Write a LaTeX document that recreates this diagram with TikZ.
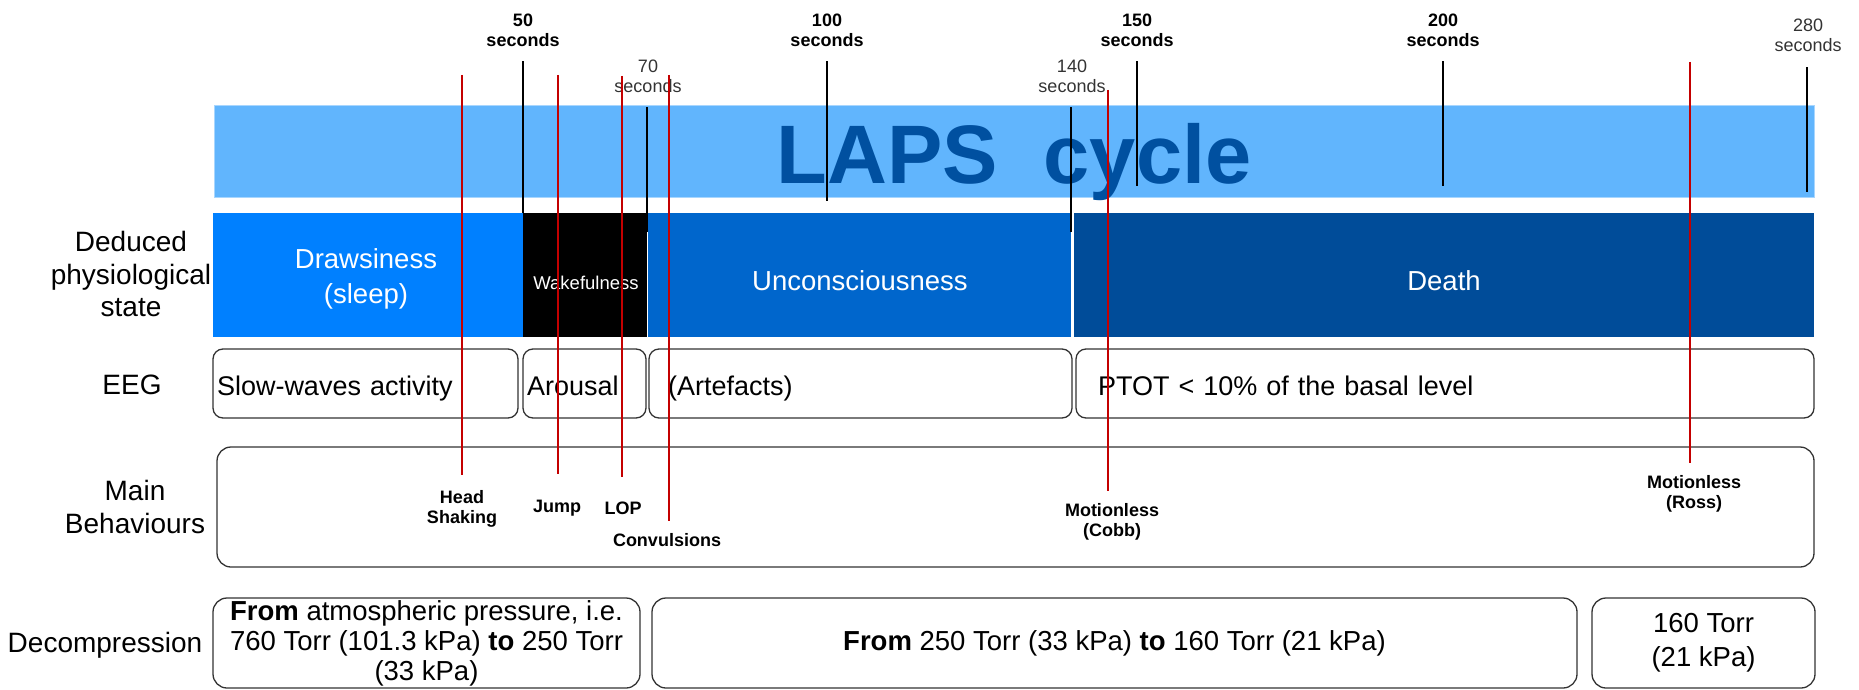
\documentclass[tikz,border=0pt]{standalone}
\usepackage{fontspec}
\setmainfont{Liberation Sans}
\definecolor{lapsblue}{RGB}{97,181,253}
\definecolor{lapsdark}{RGB}{0,80,160}
\definecolor{sleepblue}{RGB}{0,128,255}
\definecolor{unconsblue}{RGB}{0,102,204}
\definecolor{deathblue}{RGB}{0,76,153}
\definecolor{markred}{RGB}{196,0,0}
\definecolor{boxgray}{RGB}{51,51,51}
\newcommand{\fsz}[2]{\fontsize{#1}{#2}\selectfont}

\begin{document}
\begin{tikzpicture}[x=1pt,y=-1pt]
\tikzset{rowlabel/.style = {align=center, inner sep=0pt, font=\fsz{28}{32.5}}}
\tikzset{state/.style = {inner sep=0pt, minimum height=124pt}}
\tikzset{statetext/.style = {align=center, inner sep=0pt, text=white, font=\fsz{27.5}{35}}}
\tikzset{eegbox/.style = {draw=boxgray, line width=1.3pt, rounded corners=10pt, inner xsep=4pt, minimum height=69pt, align=left, text height=23pt, text depth=0pt, font=\fsz{27}{31}}}
\tikzset{bigbox/.style = {draw=boxgray, line width=1.3pt, rounded corners=14pt, inner sep=0pt, align=center, font=\fsz{27.5}{30}}}
\tikzset{tick/.style = {black, line width=1.3pt}}
\tikzset{ticklabel/.style = {align=center, inner sep=0pt, font=\fsz{18}{20}\bfseries}}
\tikzset{ticklabel2/.style = {align=center, inner sep=0pt, text=boxgray, font=\fsz{18}{20}}}
\tikzset{behaviour/.style = {align=center, inner sep=0pt, font=\fsz{18}{20}\bfseries}}
\tikzset{marker/.style = {markred, line width=1.3pt}}
\useasboundingbox (0,0) rectangle (1859,690);

\node[rowlabel](lstate) at (131,274) {Deduced\\physiological\\state};
\node[rowlabel](leeg) at (132,385) {EEG};
\node[rowlabel](lbeh) at (135,507) {Main\\Behaviours};
\node[rowlabel](ldec) at (105,645) {Decompression};

\node[fill=lapsblue, draw=lapsblue!55!white, line width=1pt, minimum width=1600pt, minimum height=91pt, inner sep=0pt,
  text=lapsdark, font=\fsz{83}{90}\bfseries, text height=63pt, text depth=0pt](laps) at (1014,151.5) {LAPS\ \ cycle};

\node[state, fill=sleepblue, minimum width=310pt](sleep) at (368,275) {};
\node[state, fill=black, minimum width=124pt](wake) at (585,275) {};
\node[state, fill=unconsblue, minimum width=423pt](uncons) at (859.5,275) {};
\node[state, fill=deathblue, minimum width=740pt](death) at (1444,275) {};
\node[statetext](sleeptext) at (366,279) {Drawsiness\\(sleep)};
\node[statetext, font=\fsz{18.5}{22}](waketext) at (586,283) {Wakefulness};
\node[statetext](unconstext) at (860,281) {Unconsciousness};
\node[statetext](deathtext) at (1444,281) {Death};

\node[eegbox, text width=297pt](slow) at (365.5,383.5) {Slow-waves activity};
\node[eegbox, text width=115pt](arousal) at (584.5,383.5) {Arousal};
\node[eegbox, text width=415pt](artefacts) at (860.5,383.5) {\hspace*{15pt}(Artefacts)};
\node[eegbox, text width=730pt](ptot) at (1445,383.5) {\hspace*{18pt}PTOT < 10\% of the basal level};

\node[bigbox, minimum width=1597pt, minimum height=120pt](behav) at (1015.5,507) {};

\node[bigbox, minimum width=427pt, minimum height=90pt](dec1) at (426.5,643)
  {\textbf{From} atmospheric pressure, i.e.\\760 Torr (101.3 kPa) \textbf{to} 250 Torr\\(33 kPa)};
\node[bigbox, minimum width=925pt, minimum height=90pt](dec2) at (1114.5,643)
  {\textbf{From} 250 Torr (33 kPa) \textbf{to} 160 Torr (21 kPa)};
\node[bigbox, minimum width=223pt, minimum height=90pt, font=\fsz{27.5}{34}](dec3) at (1703.5,643) {160 Torr\\(21 kPa)};

\node[ticklabel](t50) at (523,30) {50\\seconds};
\node[ticklabel](t100) at (827,30) {100\\seconds};
\node[ticklabel](t150) at (1137,30) {150\\seconds};
\node[ticklabel](t200) at (1443,30) {200\\seconds};
\node[ticklabel2](t70) at (648,76) {70\\seconds};
\node[ticklabel2](t140) at (1072,76) {140\\seconds};
\node[ticklabel2](t280) at (1808,35) {280\\seconds};
\draw[tick] ([yshift=-14.5pt]t50.south) -- (t50.south |- wake.north);
\draw[tick] ([yshift=-14.5pt]t100.south) -- ++(0,140);
\draw[tick] ([yshift=-14.5pt]t150.south) -- ++(0,125);
\draw[tick] ([yshift=-14.5pt]t200.south) -- ++(0,125);
\draw[tick] ([xshift=-1pt,yshift=-14.5pt]t70.south) -- ++(0,125);
\draw[tick] ([xshift=-1pt,yshift=-14.5pt]t140.south) -- ++(0,125);
\draw[tick] ([xshift=-1pt,yshift=-15.5pt]t280.south) -- ++(0,125);

\node[behaviour](hs) at (462,509) {Head\\Shaking};
\node[behaviour](jump) at (557,508) {Jump};
\node[behaviour](lop) at (623,508) {LOP};
\node[behaviour](conv) at (667,540) {Convulsions};
\node[behaviour](cobb) at (1112,522) {Motionless\\(Cobb)};
\node[behaviour](ross) at (1694,494) {Motionless\\(Ross)};
\coordinate (hsTop) at (462,75);
\coordinate (jumpTop) at (558,75);
\coordinate (lopTop) at (622,76);
\coordinate (convTop) at (669,75);
\coordinate (cobbTop) at (1108,90);
\coordinate (rossTop) at (1690,62);
\draw[marker, shorten >=15pt] (hsTop) -- (hsTop |- hs.north);
\draw[marker, shorten >=26pt] (jumpTop) -- (jumpTop |- jump.north);
\draw[marker, shorten >=24pt] (lopTop) -- (lopTop |- lop.north);
\draw[marker, shorten >=12pt] (convTop) -- (convTop |- conv.north);
\draw[marker, shorten >=12pt] (cobbTop) -- (cobbTop |- cobb.north);
\draw[marker, shorten >=12pt] (rossTop) -- (rossTop |- ross.north);
\end{tikzpicture}
\end{document}
